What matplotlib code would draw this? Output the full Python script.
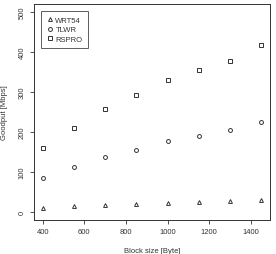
import matplotlib.pyplot as plt

plt.rcParams['font.family'] = ['Liberation Sans', 'DejaVu Sans']

block_size = [400, 550, 700, 850, 1000, 1150, 1300, 1450]
wrt54 = [11, 14, 17, 19, 22, 25, 27, 29]
tlwr = [85, 113, 137, 156, 178, 191, 205, 226]
rspro = [160, 210, 258, 293, 331, 354, 377, 418]

fig = plt.figure(figsize=(2.76, 2.55), dpi=100)
ax = fig.add_axes([0.123, 0.133, 0.855, 0.847])

ms = 2.8
ax.plot(block_size, wrt54, linestyle='none', marker='^', mfc='none', mec='#333333', mew=0.7, ms=ms, label='WRT54')
ax.plot(block_size, tlwr, linestyle='none', marker='o', mfc='none', mec='#333333', mew=0.7, ms=ms, label='TLWR')
ax.plot(block_size, rspro, linestyle='none', marker='s', mfc='none', mec='#333333', mew=0.7, ms=ms, label='RSPRO')

ax.set_xlim(358, 1492)
ax.set_ylim(-20, 520)
ax.set_xticks([400, 600, 800, 1000, 1200, 1400])
ax.set_yticks([0, 100, 200, 300, 400, 500])
ax.tick_params(labelsize=5.5, length=3, width=0.6, colors='#333333', pad=3)
for lab in ax.get_yticklabels():
    lab.set_rotation(90)
    lab.set_va('center')
for s in ax.spines.values():
    s.set_linewidth(0.7)
    s.set_color('#333333')

ax.set_xlabel('Block size [Byte]', fontsize=5.5, color='#333333', labelpad=8)
ax.set_ylabel('Goodput [Mbps]', fontsize=5.5, color='#333333', labelpad=8)

leg = ax.legend(loc='upper left', fontsize=5.5, frameon=True, fancybox=False,
                edgecolor='#333333', borderpad=0.7, handletextpad=0.2,
                handlelength=1.0, labelspacing=0.3, borderaxespad=0.9)
leg.get_frame().set_linewidth(0.7)
for t in leg.get_texts():
    t.set_color('#333333')

fig.savefig('out.png', dpi=100)
